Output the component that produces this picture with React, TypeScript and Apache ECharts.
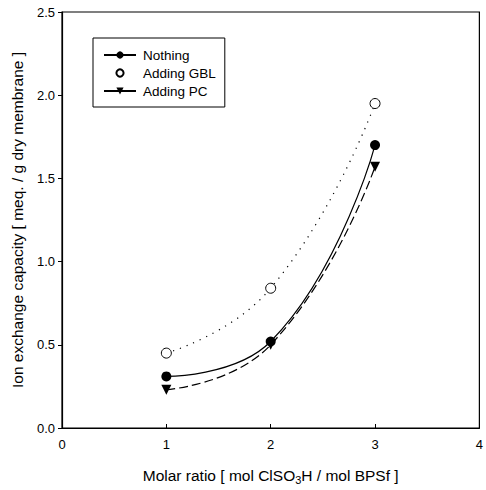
import React, { useEffect, useRef } from "react";
import * as echarts from "echarts";

const ratios = [1, 2, 3];
const nothing = [0.31, 0.52, 1.7];
const addingGBL = [0.45, 0.84, 1.95];
const addingPC = [0.23, 0.5, 1.57];
const seriesNames = ["Nothing", "Adding GBL", "Adding PC"];

const FONT = "Liberation Sans, Arial, Helvetica, sans-serif";

export default function App() {
  const ref = useRef<HTMLDivElement>(null);
  useEffect(() => {
    document.body.style.margin = "0";
    if (!ref.current) return;
    const chart = echarts.init(ref.current, null, { renderer: "svg" });
    const pair = (ys: number[]) => ratios.map((x, i) => [x, ys[i]]);
    chart.setOption({
      animation: false,
      backgroundColor: "#ffffff",
      textStyle: { fontFamily: FONT, color: "#000" },
      grid: {
        left: 62,
        right: 2,
        top: 12,
        bottom: 60,
        show: true,
        borderColor: "#000",
        borderWidth: 1.2,
      },
      legend: {
        orient: "vertical",
        left: 93,
        top: 38,
        padding: [10, 9, 9, 10],
        borderColor: "#000",
        borderWidth: 1,
        itemWidth: 32,
        itemHeight: 9,
        itemGap: 4,
        textStyle: { fontSize: 13.5, color: "#000", fontFamily: FONT, padding: [0, 0, 0, 2] },
        data: [
          { name: seriesNames[0] },
          { name: seriesNames[1], lineStyle: { opacity: 0 } },
          { name: seriesNames[2], lineStyle: { type: "solid" } },
        ],
      },
      xAxis: {
        type: "value",
        min: 0,
        max: 4,
        interval: 1,
        name: "Molar ratio [ mol ClSO{sub|3}H / mol BPSf ]",
        nameLocation: "middle",
        nameGap: 37,
        nameTextStyle: {
          fontSize: 15.5,
          color: "#000",
          fontFamily: FONT,
          rich: { sub: { fontSize: 11, verticalAlign: "bottom", padding: [9, 0, 0, 0], fontFamily: FONT } },
        },
        axisLine: { lineStyle: { color: "#000", width: 1.2 } },
        axisTick: { inside: true, length: 4, lineStyle: { color: "#000" } },
        axisLabel: { fontSize: 13, color: "#000", margin: 10, fontFamily: FONT },
        splitLine: { show: false },
      },
      yAxis: {
        type: "value",
        min: 0,
        max: 2.5,
        interval: 0.5,
        name: "Ion exchange capacity [ meq. / g dry membrane ]",
        nameLocation: "middle",
        nameGap: 37,
        nameTextStyle: { fontSize: 15.5, color: "#000", fontFamily: FONT },
        axisLine: { lineStyle: { color: "#000", width: 1.2 } },
        axisTick: { inside: false, length: 4, lineStyle: { color: "#000" } },
        axisLabel: {
          fontSize: 13,
          color: "#000",
          margin: 7,
          fontFamily: FONT,
          formatter: (v: number) => v.toFixed(1),
        },
        splitLine: { show: false },
      },
      series: [
        {
          name: seriesNames[0],
          type: "line",
          smooth: true,
          data: pair(nothing),
          symbol: "circle",
          symbolSize: 10,
          itemStyle: { color: "#000" },
          lineStyle: { color: "#000", width: 1.2, type: "solid" },
        },
        {
          name: seriesNames[1],
          type: "line",
          smooth: true,
          data: pair(addingGBL),
          symbol: "circle",
          symbolSize: 10,
          itemStyle: { color: "#fff", borderColor: "#000", borderWidth: 1 },
          lineStyle: { color: "#000", width: 1.2, type: [1.2, 6] },
        },
        {
          name: seriesNames[2],
          type: "line",
          smooth: true,
          data: pair(addingPC),
          symbol: "triangle",
          symbolRotate: 180,
          symbolSize: 10,
          itemStyle: { color: "#000" },
          lineStyle: { color: "#000", width: 1.2, type: [9, 4] },
        },
      ],
    });
    return () => chart.dispose();
  }, []);
  return <div ref={ref} style={{ width: 486, height: 490 }} />;
}
